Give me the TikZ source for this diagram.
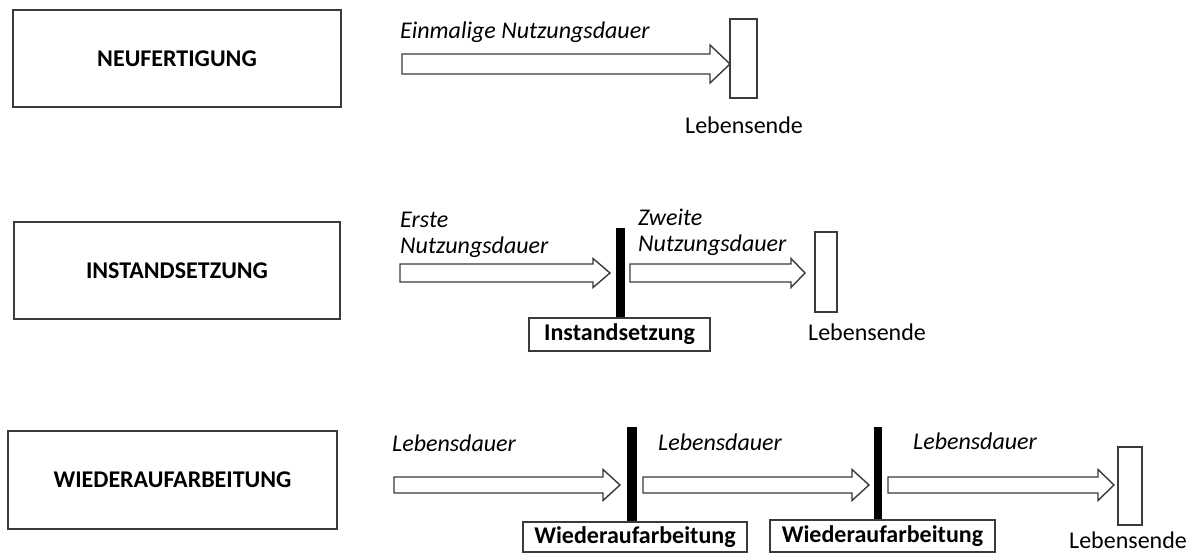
\documentclass[tikz,border=0pt]{standalone}
\usepackage{fontspec}
\setmainfont{Carlito}
\usetikzlibrary{calc}
\definecolor{edge}{HTML}{3A3A3A}
\tikzset{
  frame/.style={draw=edge, line width=1.5pt, fill=white, inner sep=0pt},
  bigbox/.style={frame, minimum height=97pt, font=\fontsize{24}{27}\selectfont\bfseries},
  endbox/.style={frame, line width=1.3pt},
  smallbox/.style={frame, line width=1.3pt, font=\fontsize{24}{27}\selectfont\bfseries},
  barnode/.style={fill=black, draw=none, inner sep=0pt},
  lbl/.style={inner sep=0pt, anchor=base west, font=\fontsize{24}{26}\selectfont\itshape},
  endlbl/.style={inner sep=0pt, anchor=base west, font=\fontsize{24}{26}\selectfont},
  arrowbody/.style={draw=edge, line width=1.4pt, fill=white, line join=miter},
}
\newcommand{\blockarrow}[5]{%
  \draw[arrowbody] let \p1=(#1), \p2=(#2) in
    (\x1,{\y1+#3}) -- ({\x2-#5},{\y1+#3}) -- ({\x2-#5},{\y1+#4}) -- (\x2,\y1)
    -- ({\x2-#5},{\y1-#4}) -- ({\x2-#5},{\y1-#3}) -- (\x1,{\y1-#3}) -- cycle;}
\begin{document}
\begin{tikzpicture}[x=1pt, y=-1pt]
\useasboundingbox (0,0) rectangle (1197,554);

% left boxes
\node[bigbox, minimum width=328pt] (neu) at (177,58.5) {NEUFERTIGUNG};
\node[bigbox, minimum width=326pt] (inst) at (177,270.5) {INSTANDSETZUNG};
\node[bigbox, minimum width=329pt, minimum height=98pt] (wied) at (172.5,480) {WIEDERAUFARBEITUNG};

% row 1
\node[endbox, minimum width=27pt, minimum height=79pt] (end1) at (743.5,58.5) {};
\coordinate (s1) at (402,64);
\coordinate (t1) at (730,64);
\blockarrow{s1}{t1}{10pt}{19pt}{20pt}
\node[lbl] (l1) at (400,38) {Einmalige Nutzungsdauer};
\node[endlbl] (le1) at (685,133) {Lebensende};

% row 2
\node[barnode, minimum width=9pt, minimum height=90pt] (bar2) at (620,273) {};
\node[smallbox, minimum width=181pt, minimum height=33pt] (ib) at (619.5,334.5) {Instandsetzung};
\node[endbox, minimum width=22pt, minimum height=80pt] (end2) at (826,272) {};
\coordinate (s2a) at (400,273);
\coordinate (t2a) at (610,273);
\coordinate (s2b) at (630,273);
\coordinate (t2b) at (805,273);
\blockarrow{s2a}{t2a}{9pt}{14.5pt}{17pt}
\blockarrow{s2b}{t2b}{9pt}{14.5pt}{14pt}
\node[lbl, align=left, anchor=base west] (l2a) at (400,253) {Erste\\[0pt]Nutzungsdauer};
\node[lbl, align=left, anchor=base west] (l2b) at (638,251) {Zweite\\[0pt]Nutzungsdauer};
\node[endlbl] (le2) at (808,340) {Lebensende};

% row 3
\node[barnode, minimum width=10pt, minimum height=95pt] (bar3a) at (632,474.5) {};
\node[barnode, minimum width=8pt, minimum height=93pt] (bar3b) at (878,473.5) {};
\node[smallbox, minimum width=224pt, minimum height=30pt] (wb1) at (635,537) {Wiederaufarbeitung};
\node[smallbox, minimum width=225pt, minimum height=32pt] (wb2) at (882.5,536) {Wiederaufarbeitung};
\node[endbox, minimum width=24pt, minimum height=78pt] (end3) at (1130,486) {};
\coordinate (s3a) at (394,485);
\coordinate (t3a) at (620,485);
\coordinate (s3b) at (643,485);
\coordinate (t3b) at (869,485);
\coordinate (s3c) at (888,485);
\coordinate (t3c) at (1114,485);
\blockarrow{s3a}{t3a}{8pt}{15.5pt}{17pt}
\blockarrow{s3b}{t3b}{8pt}{15.5pt}{17pt}
\blockarrow{s3c}{t3c}{8pt}{15.5pt}{16pt}
\node[lbl] (l3a) at (392,451) {Lebensdauer};
\node[lbl] (l3b) at (658,450) {Lebensdauer};
\node[lbl] (l3c) at (913,449) {Lebensdauer};
\node[endlbl] (le3) at (1069,548) {Lebensende};
\end{tikzpicture}
\end{document}
